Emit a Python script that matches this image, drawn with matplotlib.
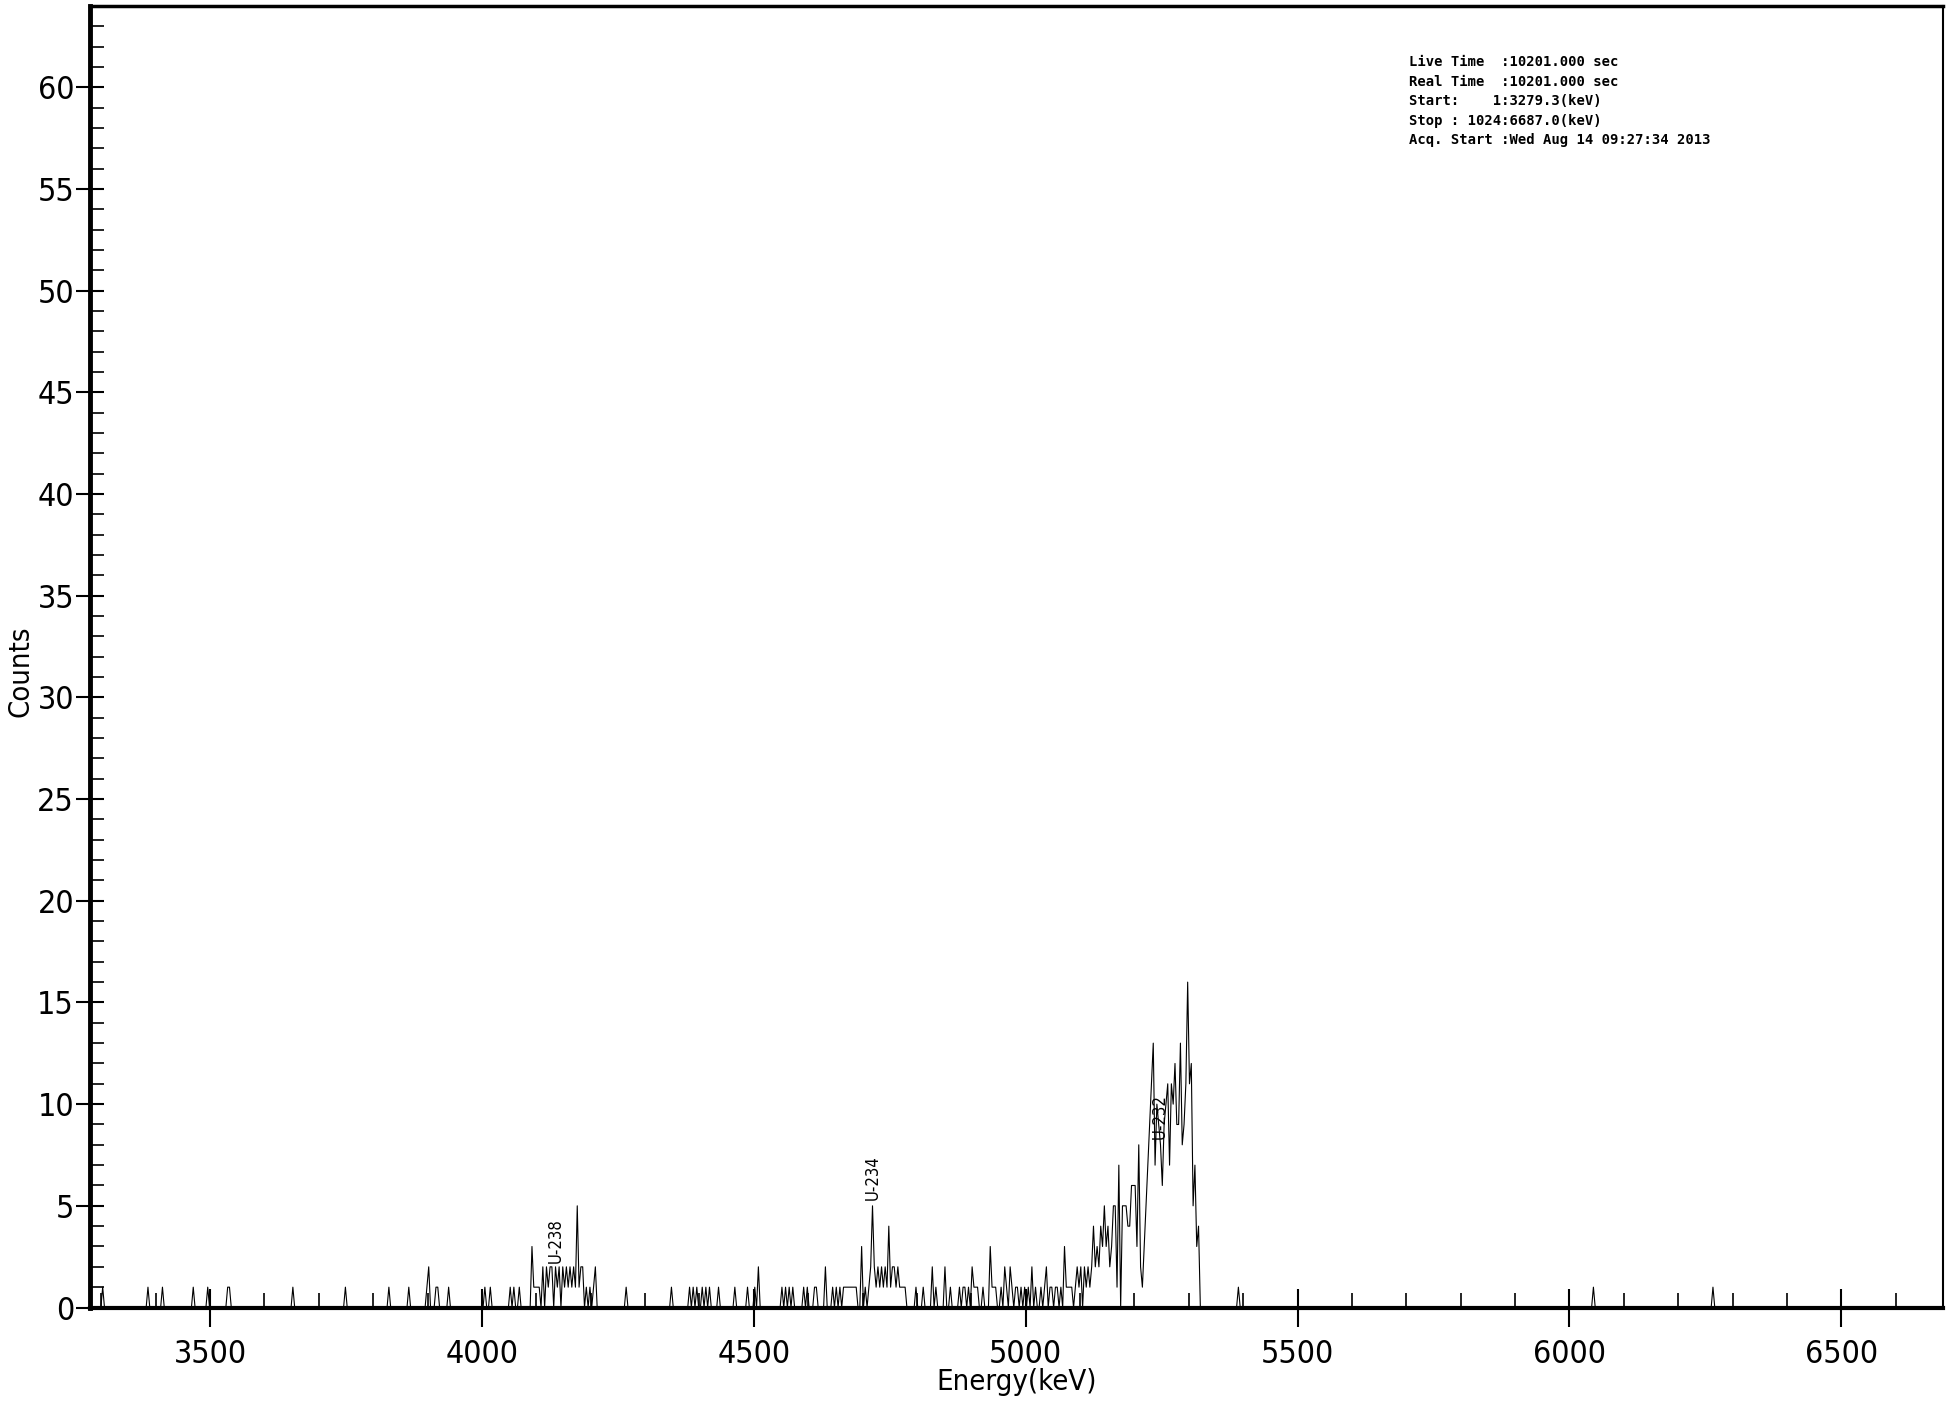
import numpy as np
import matplotlib
matplotlib.use("Agg")
import matplotlib.pyplot as plt
from matplotlib import font_manager as fm
from matplotlib.ticker import MultipleLocator

# ---- spectrum calibration -------------------------------------------------
n_channels = 1024
e_start = 3279.3          # keV at channel 1
e_stop = 6687.0           # keV at channel 1024

# ---- non-zero channels of the alpha spectrum ------------------------------
# background / low-energy region
low_channels = [8, 33, 41, 58, 66, 77, 78, 113, 142, 166, 177, 187, 188, 192, 193,
                199, 219, 222, 233, 235, 238]
low_counts = [1, 1, 1, 1, 1, 1, 1, 1, 1, 1, 1, 1, 2, 1, 1,
              1, 1, 1, 1, 1, 1]

# U-238 group
u238_channels = list(range(245, 282))
u238_counts = [3, 1, 1, 1, 1, 0, 2, 0, 2, 1, 2, 2, 0, 2, 1, 2, 0, 2, 1, 2,
               1, 2, 1, 2, 1, 5, 1, 2, 2, 0, 1, 0, 1, 0, 1, 2, 0]

# between U-238 and U-234
mid_channels = [297, 322, 332, 334, 336, 339, 341, 343, 348, 357, 364, 368, 370,
                383, 385, 387, 389, 395, 397, 401, 402, 407, 411, 413, 415,
                417, 418, 419, 420, 421, 422, 423, 424]
mid_counts = [1, 1, 1, 1, 1, 1, 1, 1, 1, 1, 1, 1, 2,
              1, 1, 1, 1, 1, 1, 1, 1, 2, 1, 1, 1,
              1, 1, 1, 1, 1, 1, 1, 1]

# U-234 group
u234_channels = [427, 429, 431, 432, 433, 434, 435, 436, 437, 438, 439, 440, 441,
                 442, 443, 444, 445, 446, 447, 448, 449, 450, 451, 457, 461, 466,
                 468, 473, 476, 481, 483, 484, 486, 488, 489, 490, 491, 494, 498,
                 499, 500, 501]
u234_counts = [3, 1, 1, 2, 5, 2, 1, 2, 1, 2, 1, 2, 1,
               4, 1, 2, 2, 1, 2, 1, 1, 1, 1, 1, 1, 2,
               1, 2, 1, 1, 1, 1, 1, 2, 1, 1, 1, 1, 3,
               1, 1, 1]

# U-232 group with its low-energy tail
u232_channels = list(range(502, 615))
u232_counts = [0, 0, 1, 0, 2, 1, 0, 2, 1, 0, 1, 1, 0, 1, 0, 1, 0, 1, 0, 2,
               0, 1, 0, 0, 1, 0, 1, 2, 0, 1, 1, 0, 1, 1, 0, 1, 0, 3, 1, 1,
               1, 1, 0, 1, 2, 1, 2, 0, 2, 1, 2, 1, 2, 4, 2, 3, 2, 4, 3, 5,
               3, 4, 2, 3, 5, 5, 1, 7, 0, 5, 5, 5, 4, 4, 6, 6, 6, 3, 8, 2,
               1, 3, 5, 7, 9, 11, 13, 7, 10, 9, 8, 6, 9, 10, 11, 7, 11, 10, 12, 9,
               9, 13, 8, 9, 11, 16, 11, 12, 5, 7, 3, 4, 0]

# isolated high-energy counts
high_channels = [635, 831, 897]
high_counts = [1, 1, 1]

# ---- annotation labels ----------------------------------------------------
peak_names = ["U-238", "U-234", "U-232"]
peak_energies = [4136.0, 4719.0, 5247.0]
peak_label_base = [2.2, 5.3, 8.3]

info_lines = [
    "Live Time  :10201.000 sec",
    "Real Time  :10201.000 sec",
    "Start:    1:3279.3(keV)",
    "Stop : 1024:6687.0(keV)",
    "Acq. Start :Wed Aug 14 09:27:34 2013",
]

# ---- build the spectrum ---------------------------------------------------
counts = np.zeros(n_channels)
for chans, vals in [(low_channels, low_counts), (u238_channels, u238_counts),
                    (mid_channels, mid_counts), (u234_channels, u234_counts),
                    (u232_channels, u232_counts), (high_channels, high_counts)]:
    counts[np.asarray(chans) - 1] = vals
channels = np.arange(1, n_channels + 1)
energy = e_start + (channels - 1) * (e_stop - e_start) / (n_channels - 1)


# ---- a narrow sans-serif face for the axis text ---------------------------
def narrow_font_file():
    families = ["Liberation Sans Narrow", "Noto Sans", "DejaVu Sans", "Open Sans",
                "Roboto", "Lato", "Inter", "Liberation Sans"]
    rank_words = ["extracondensed", "narrow", "condensed", "semicondensed"]
    best = None
    for f in fm.fontManager.ttflist:
        fn = f.fname.lower().replace("-", "").replace("_", "")
        if f.name not in families or f.style != "normal":
            continue
        if any(w in fn for w in ("bold", "light", "thin", "black", "medium", "italic")):
            continue
        rank = None
        for i, w in enumerate(rank_words):
            if w in fn:
                rank = i
                if w == "condensed" and ("extracondensed" in fn or "semicondensed" in fn
                                         or "ultracondensed" in fn):
                    rank = None
                    continue
                break
        if rank is None:
            if "narrow" in f.name.lower():
                rank = 1
            else:
                continue
        key = (rank, families.index(f.name))
        if best is None or key < best[0]:
            best = (key, f.fname)
    return best[1] if best else None


narrow_path = narrow_font_file()


def axis_font(size):
    if narrow_path:
        return fm.FontProperties(fname=narrow_path, size=size)
    return fm.FontProperties(family=["Liberation Sans", "DejaVu Sans"], size=size)


W, H = 1955, 1403
fig = plt.figure(figsize=(W / 100, H / 100), dpi=100)
ax_left, ax_right, ax_top, ax_bottom = 90, 1943, 6, 1307.5
ax = fig.add_axes([ax_left / W, 1 - ax_bottom / H,
                   (ax_right - ax_left) / W, (ax_bottom - ax_top) / H])

ax.plot(energy, counts, color="black", lw=0.8)

ax.set_xlim(e_start, e_stop)
ax.set_ylim(0, 64)

ax.xaxis.set_major_locator(MultipleLocator(500))
ax.xaxis.set_minor_locator(MultipleLocator(100))
ax.yaxis.set_major_locator(MultipleLocator(5))
ax.yaxis.set_minor_locator(MultipleLocator(1))

ax.tick_params(axis="x", which="major", direction="inout", length=28, width=1.5, pad=9)
ax.tick_params(axis="x", which="minor", direction="in", length=11, width=1.2)
ax.tick_params(axis="y", which="major", direction="inout", length=20, width=1.5, pad=1.5)
ax.tick_params(axis="y", which="minor", direction="in", length=10, width=1.2)

tick_fp = axis_font(23)
for lbl in ax.get_xticklabels() + ax.get_yticklabels():
    lbl.set_fontproperties(tick_fp)

ax.spines["left"].set_linewidth(3.5)
ax.spines["top"].set_linewidth(2.5)
ax.spines["bottom"].set_linewidth(3.0)
ax.spines["right"].set_linewidth(1.5)

ax.set_xlabel("Energy(keV)", fontproperties=axis_font(21))
ax.xaxis.set_label_coords(0.5, -0.0465)
ax.set_ylabel("Counts", fontproperties=axis_font(21))
ax.yaxis.set_label_coords(-0.0297, 0.489)

for name, e, base in zip(peak_names, peak_energies, peak_label_base):
    ax.text(e, base, name, rotation=90, ha="center", va="bottom",
            fontproperties=axis_font(12))

line_step = 19.5
for i, line in enumerate(info_lines):
    fig.text(1409 / W, 1 - (66 + i * line_step) / H, line,
             family="DejaVu Sans Mono", fontweight="bold", fontsize=10,
             ha="left", va="baseline")

fig.savefig("out.png", dpi=100)
